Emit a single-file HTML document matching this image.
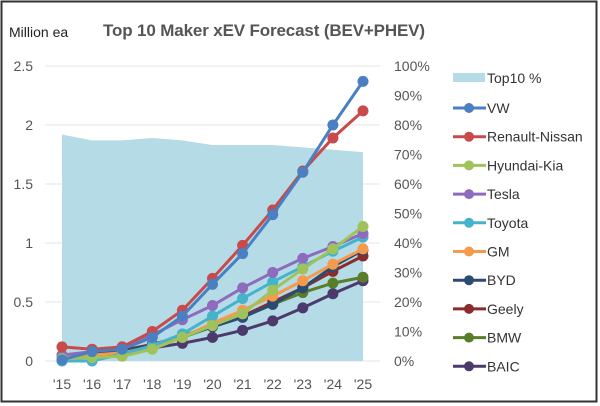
<!DOCTYPE html>
<html><head><meta charset="utf-8"><style>
body{margin:0;background:#fff}
svg{display:block;font-family:"Liberation Sans",sans-serif}
</style></head><body>
<svg id="s" width="600" height="406" viewBox="0 0 600 406" xmlns="http://www.w3.org/2000/svg">
<rect x="1.5" y="1.5" width="595" height="400" fill="#fff" stroke="#333" stroke-width="2"/>
<text x="9" y="37" font-size="14" fill="#222">Million ea</text>
<text x="103" y="36" font-size="17" font-weight="bold" fill="#555" textLength="322" lengthAdjust="spacing">Top 10 Maker xEV Forecast (BEV+PHEV)</text>
<g id="g"></g>
</svg>
<script>
var g=document.getElementById('g'),h='';
function X(i){return 62+i*30.1}
function Y(v){return 361-v*118}
for(var k=0;k<=5;k++){var y=Y(k*0.5);h+='<line x1="45" x2="380" y1="'+y+'" y2="'+y+'" stroke="#e6e6e6" stroke-width="1"/>';
h+='<text x="33" y="'+(y+5)+'" font-size="14" fill="#555" text-anchor="end">'+['0','0.5','1','1.5','2','2.5'][k]+'</text>';}
for(var k=0;k<=10;k++){var y=361-k*29.5;h+='<text x="394" y="'+(y+5)+'" font-size="14" fill="#555">'+(k*10)+'%</text>';}
var area=[1.92,1.87,1.87,1.89,1.87,1.83,1.83,1.83,1.81,1.79,1.77];
var p='M'+X(0)+' '+Y(0);area.forEach(function(v,i){p+=' L'+X(i)+' '+Y(v)});p+=' L'+X(10)+' '+Y(0)+'Z';
h+='<path d="'+p+'" fill="#b5dce6"/>';
for(var i=0;i<=10;i++)h+='<text x="'+X(i)+'" y="389" font-size="14" fill="#555" text-anchor="middle">\''+(15+i)+'</text>';
var S=[
['BAIC','#4b3a6b',[0.02,0.04,0.07,0.11,0.15,0.2,0.26,0.34,0.45,0.57,0.68]],
['BMW','#5a7d2a',[0.05,0.07,0.09,0.14,0.2,0.29,0.38,0.48,0.58,0.66,0.71]],
['Geely','#8b2c2c',[0.04,0.07,0.09,0.14,0.21,0.3,0.38,0.5,0.62,0.76,0.89]],
['BYD','#2b4b72',[0.04,0.07,0.09,0.13,0.21,0.29,0.37,0.48,0.62,0.8,0.94]],
['GM','#f59a4a',[0.03,0.05,0.07,0.12,0.2,0.32,0.43,0.55,0.68,0.82,0.95]],
['Toyota','#45b3cc',[0.0,0.0,0.06,0.13,0.23,0.38,0.53,0.67,0.8,0.93,1.05]],
['Tesla','#8e6bbd',[0.05,0.08,0.12,0.22,0.35,0.47,0.62,0.75,0.87,0.97,1.08]],
['Hyundai-Kia','#9fc35a',[0.02,0.03,0.04,0.1,0.2,0.3,0.4,0.6,0.78,0.95,1.14]],
['Renault-Nissan','#c94a4a',[0.12,0.1,0.12,0.25,0.43,0.7,0.98,1.28,1.61,1.89,2.12]],
['VW','#4a7fc1',[0.01,0.08,0.1,0.2,0.38,0.65,0.91,1.24,1.6,2.0,2.37]]];
S.forEach(function(s){var pts=s[2].map(function(v,i){return X(i)+','+Y(v)}).join(' ');
h+='<polyline points="'+pts+'" fill="none" stroke="'+s[1]+'" stroke-width="3"/>';
s[2].forEach(function(v,i){h+='<circle cx="'+X(i)+'" cy="'+Y(v)+'" r="5.5" fill="'+s[1]+'"/>'});});
h+='<rect x="453" y="73" width="32" height="9" fill="#b5dce6"/><text x="487" y="83" font-size="14" fill="#333">Top10 %</text>';
S.slice().reverse().forEach(function(s,i){var y=108+i*28.7;
h+='<line x1="453" x2="486" y1="'+y+'" y2="'+y+'" stroke="'+s[1]+'" stroke-width="3"/><circle cx="469" cy="'+y+'" r="5" fill="'+s[1]+'"/>';
h+='<text x="487" y="'+(y+5)+'" font-size="14" fill="#333">'+s[0]+'</text>';});
g.innerHTML=h;
</script>
</body></html>
